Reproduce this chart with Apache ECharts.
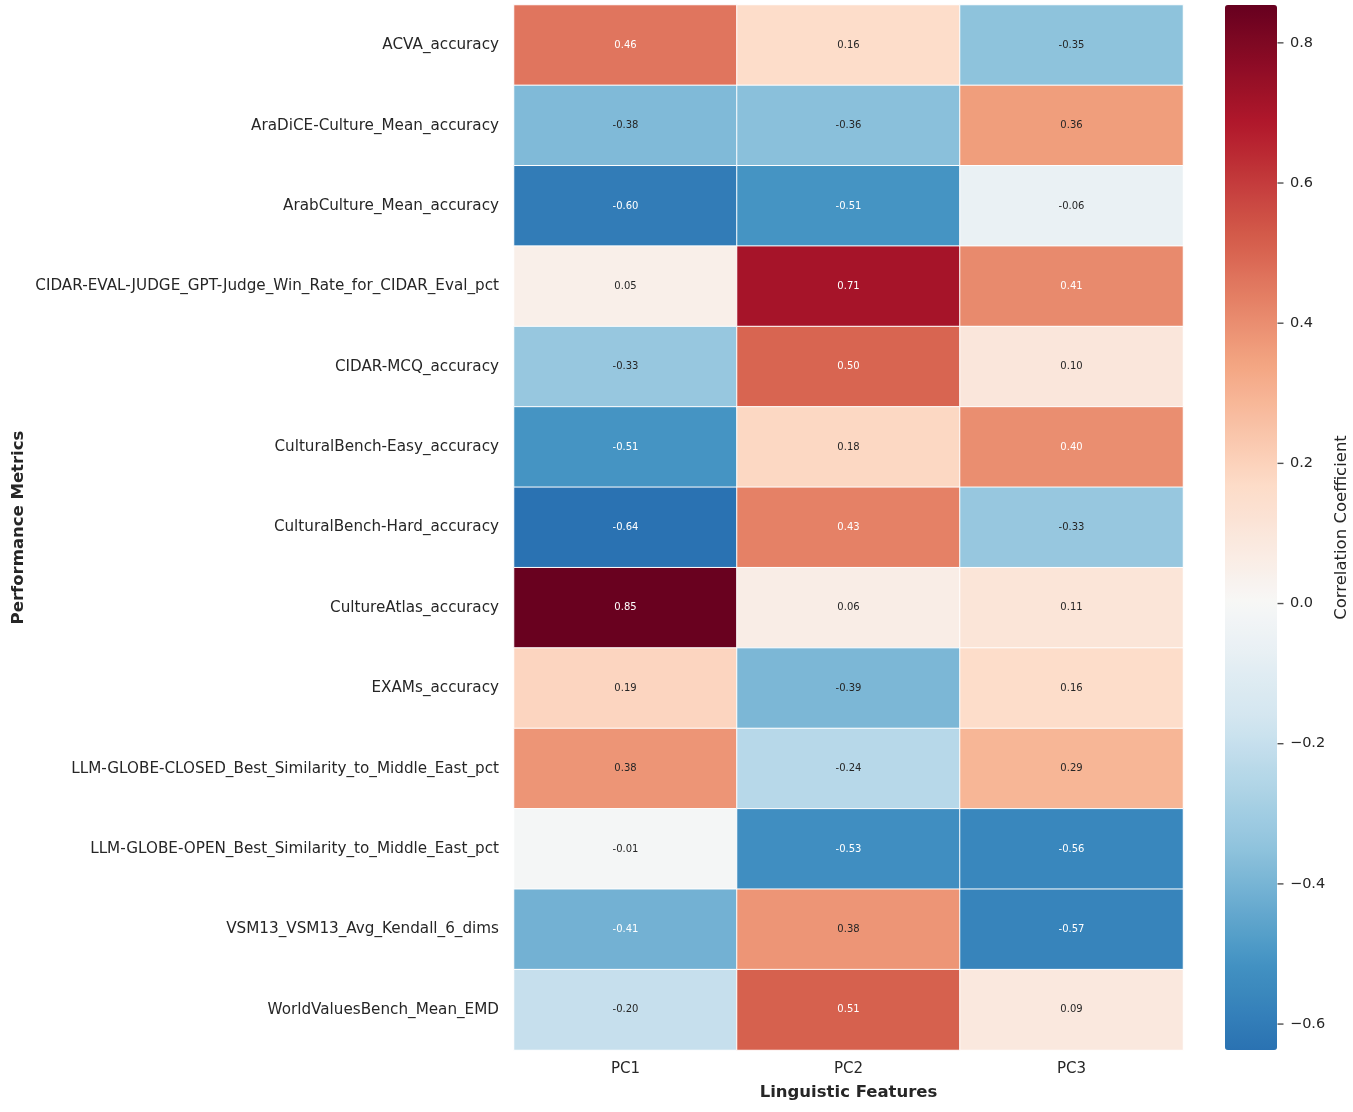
<!DOCTYPE html>
<html>
<head>
<meta charset="utf-8">
<script src="https://cdn.jsdelivr.net/npm/echarts@6/dist/echarts.min.js"></script>
<style>
html,body{margin:0;padding:0;background:#fff;}
#chart{width:1353px;height:1112px;}
</style>
</head>
<body>
<div id="chart"></div>
<script>
// ---- data ----
const metrics = [
  "ACVA_accuracy",
  "AraDiCE-Culture_Mean_accuracy",
  "ArabCulture_Mean_accuracy",
  "CIDAR-EVAL-JUDGE_GPT-Judge_Win_Rate_for_CIDAR_Eval_pct",
  "CIDAR-MCQ_accuracy",
  "CulturalBench-Easy_accuracy",
  "CulturalBench-Hard_accuracy",
  "CultureAtlas_accuracy",
  "EXAMs_accuracy",
  "LLM-GLOBE-CLOSED_Best_Similarity_to_Middle_East_pct",
  "LLM-GLOBE-OPEN_Best_Similarity_to_Middle_East_pct",
  "VSM13_VSM13_Avg_Kendall_6_dims",
  "WorldValuesBench_Mean_EMD"
];
const components = ["PC1", "PC2", "PC3"];
const pc1 = [0.46, -0.38, -0.60, 0.05, -0.33, -0.51, -0.64, 0.85, 0.19, 0.38, -0.01, -0.41, -0.20];
const pc2 = [0.16, -0.36, -0.51, 0.71, 0.50, 0.18, 0.43, 0.06, -0.39, -0.24, -0.53, 0.38, 0.51];
const pc3 = [-0.35, 0.36, -0.06, 0.41, 0.10, 0.40, -0.33, 0.11, 0.16, 0.29, -0.56, -0.57, 0.09];
const colorbarTicks = [-0.6, -0.4, -0.2, 0.0, 0.2, 0.4, 0.6, 0.8];
const scaleMin = -0.637;
const scaleMax = 0.854;

// ---- colour map (RdBu_r, centred at 0) ----
const rdbuR = ["#053061","#2166ac","#4393c3","#92c5de","#d1e5f0","#f7f7f7","#fddbc7","#f4a582","#d6604d","#b2182b","#67001f"];
function hex2rgb(h){return [parseInt(h.slice(1,3),16),parseInt(h.slice(3,5),16),parseInt(h.slice(5,7),16)];}
function cmapAt(t){
  t = Math.max(0, Math.min(1, t));
  const p = t * (rdbuR.length - 1);
  const i = Math.min(Math.floor(p), rdbuR.length - 2);
  const f = p - i;
  const a = hex2rgb(rdbuR[i]), b = hex2rgb(rdbuR[i+1]);
  return [0,1,2].map(k => Math.round(a[k] + (b[k]-a[k])*f));
}
const vrange = Math.max(Math.abs(scaleMin), Math.abs(scaleMax));
function colorFor(v){ return cmapAt(0.5 + v / (2*vrange)); }
function rgbStr(c){ return 'rgb(' + c.join(',') + ')'; }
const nStops = 64;
const stops = [];
for (let i = 0; i < nStops; i++) {
  const v = scaleMin + (scaleMax - scaleMin) * i / (nStops - 1);
  stops.push(rgbStr(colorFor(v)));
}
function lum(c){
  const lin = c.map(x => { x /= 255; return x <= 0.03928 ? x/12.92 : Math.pow((x+0.055)/1.055, 2.4); });
  return 0.2126*lin[0] + 0.7152*lin[1] + 0.0722*lin[2];
}

const cols = [pc1, pc2, pc3];
const data = [];
cols.forEach((arr, xi) => {
  arr.forEach((v, yi) => {
    const c = colorFor(v);
    data.push({ value: [xi, yi, v], label: { color: lum(c) > 0.408 ? '#262626' : '#ffffff' } });
  });
});
const tickMarks = colorbarTicks.map(v => [1, v]);

const FONT = "'DejaVu Sans', sans-serif";
const TXT = '#262626';

const chart = echarts.init(document.getElementById('chart'), null, { renderer: 'canvas' });
chart.setOption({
  backgroundColor: '#ffffff',
  animation: false,
  textStyle: { fontFamily: FONT },
  grid: [
    { left: 514, top: 5, width: 669, height: 1045 },
    { left: 1225, top: 5, width: 52, height: 1045 }
  ],
  xAxis: [
    {
      type: 'category', data: components, gridIndex: 0,
      axisLine: { show: false }, axisTick: { show: false }, splitLine: { show: false },
      axisLabel: { fontSize: 15, color: TXT, margin: 12, fontFamily: FONT },
      name: 'Linguistic Features', nameLocation: 'middle', nameGap: 34,
      nameTextStyle: { fontSize: 16.5, fontWeight: 'bold', color: TXT, fontFamily: FONT }
    },
    { type: 'value', gridIndex: 1, show: false, min: 0, max: 1 }
  ],
  yAxis: [
    {
      type: 'category', data: metrics, gridIndex: 0, inverse: true,
      axisLine: { show: false }, axisTick: { show: false }, splitLine: { show: false },
      axisLabel: { fontSize: 15.2, color: TXT, margin: 15, fontFamily: FONT },
      name: 'Performance Metrics', nameLocation: 'middle', nameGap: 487, nameRotate: 90,
      nameTextStyle: { fontSize: 16.5, fontWeight: 'bold', color: TXT, fontFamily: FONT }
    },
    {
      type: 'value', gridIndex: 1, position: 'right', min: scaleMin, max: scaleMax,
      axisLine: { show: false },
      splitLine: { show: false },
      axisTick: { show: false },
      axisLabel: {
        customValues: colorbarTicks, fontSize: 14.5, color: TXT, margin: 13, fontFamily: FONT,
        formatter: v => (v < 0 ? '\u2212' : '') + Math.abs(v).toFixed(1)
      },
      name: 'Correlation Coefficient', nameLocation: 'middle', nameGap: 56, nameRotate: 90,
      nameTextStyle: { fontSize: 16.5, color: TXT, fontFamily: FONT }
    }
  ],
  visualMap: {
    type: 'continuous', min: scaleMin, max: scaleMax, seriesIndex: 0,
    calculable: false, orient: 'vertical',
    left: 1225, top: 5, itemWidth: 52, itemHeight: 1045, padding: 0,
    text: null, showLabel: false,
    inRange: { color: stops }
  },
  series: [{
    type: 'heatmap', xAxisIndex: 0, yAxisIndex: 0, data: data,
    itemStyle: { borderColor: '#ffffff', borderWidth: 1 },
    label: {
      show: true, fontSize: 10, fontFamily: FONT,
      formatter: p => p.value[2].toFixed(2)
    },
    emphasis: { disabled: true }
  }, {
    type: 'scatter', xAxisIndex: 1, yAxisIndex: 1, data: tickMarks,
    symbol: 'rect', symbolSize: [6, 1.4], symbolOffset: [3.5, 0],
    itemStyle: { color: TXT }, silent: true, clip: false, z: 10
  }]
});
</script>
</body>
</html>
